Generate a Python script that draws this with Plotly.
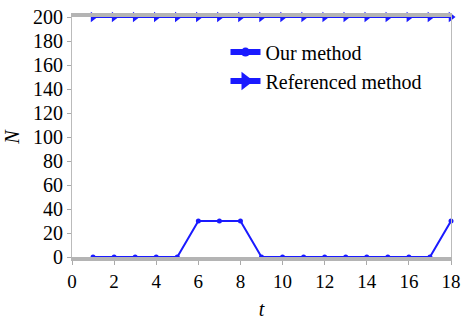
import plotly.graph_objects as go

t = list(range(1, 19))
our_method = [0, 0, 0, 0, 0, 30, 30, 30, 0, 0, 0, 0, 0, 0, 0, 0, 0, 30]
referenced_method = [200] * 18
x_ticks = list(range(0, 19, 2))
y_ticks = list(range(0, 201, 20))

blue = "#1a1aff"
fig = go.Figure()
fig.add_trace(go.Scatter(x=t, y=our_method, name="Our method", mode="lines+markers",
                         line=dict(color=blue, width=2), showlegend=False,
                         marker=dict(symbol="circle", size=5, color=blue), cliponaxis=False))
fig.add_trace(go.Scatter(x=t, y=referenced_method, name="Referenced method", mode="lines+markers",
                         line=dict(color=blue, width=2), showlegend=False,
                         marker=dict(symbol="triangle-right", size=9, color=blue), cliponaxis=False))
# legend entries with heavier symbols, as in the reference
fig.add_trace(go.Scatter(x=[None], y=[None], name="Our method", mode="lines+markers",
                         line=dict(color=blue, width=6),
                         marker=dict(symbol="circle", size=9, color=blue)))
fig.add_trace(go.Scatter(x=[None], y=[None], name="Referenced method", mode="lines+markers",
                         line=dict(color=blue, width=6),
                         marker=dict(symbol="triangle-right", size=18, color=blue)))

fam = "Times New Roman"
font = dict(family=fam, size=20, color="black")
xfont = dict(family=fam, size=19, color="black")
fig.update_layout(
    template="none",
    width=461, height=320,
    margin=dict(l=72, r=10, t=17, b=63),
    paper_bgcolor="white", plot_bgcolor="white",
    font=font,
    showlegend=True,
    legend=dict(x=0.405, y=0.935, xanchor="left", yanchor="top", bgcolor="rgba(0,0,0,0)",
                font=dict(family=fam, size=20, color="black"), tracegroupgap=0,
                itemwidth=30),
    xaxis=dict(range=[0, 18], tickvals=x_ticks, showgrid=False, zeroline=False,
               showline=True, linecolor="#b4b4b4", linewidth=4, mirror=True,
               ticks="outside", ticklen=4, tickcolor="#aaaaaa",
               tickfont=xfont,
               title=dict(text="<i>t</i>", font=font, standoff=12)),
    yaxis=dict(range=[0, 200], tickvals=y_ticks, showgrid=False, zeroline=False,
               showline=True, linecolor="#bbbbbb", linewidth=1, mirror=True,
               ticks="outside", ticklen=4, tickcolor="#aaaaaa",
               tickfont=font,
               title=dict(text="<i>N</i>", font=font, standoff=8)),
)
fig.write_html("out.html")
